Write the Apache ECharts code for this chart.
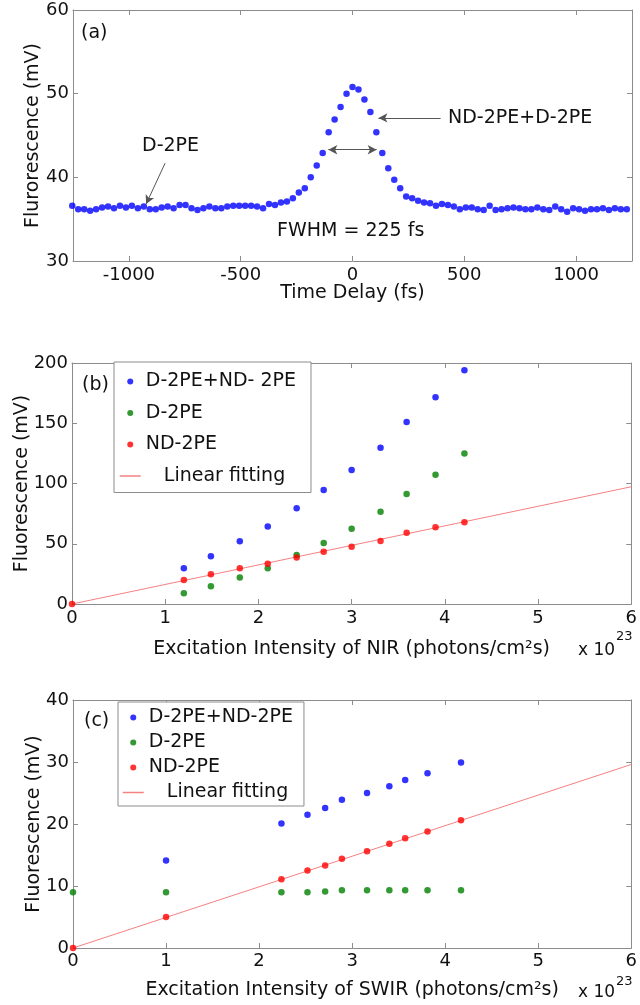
<!DOCTYPE html>
<html><head><meta charset="utf-8">
<script src="https://cdn.jsdelivr.net/npm/echarts@6/dist/echarts.min.js"></script>
<style>html,body{margin:0;padding:0;background:#fff}#c{width:640px;height:1005px}</style>
</head><body><div id="c"></div>
<script>
// ---------- Panel (a) data ----------
const timeDelay = [-1253.3,-1226.7,-1200.0,-1173.3,-1146.7,-1120.0,-1093.3,-1066.7,-1040.0,-1013.3,
  -986.7,-960.0,-933.3,-906.7,-880.0,-853.3,-826.7,-800.0,-773.3,-746.7,
  -720.0,-693.3,-666.7,-640.0,-613.3,-586.7,-560.0,-533.3,-506.7,-480.0,
  -453.3,-426.7,-400.0,-373.3,-346.7,-320.0,-293.3,-266.7,-240.0,-213.3,
  -186.7,-160.0,-133.3,-106.7,-80.0,-53.3,-26.7,0,26.7,53.3,
  80.0,106.7,133.3,160.0,186.7,213.3,240.0,266.7,293.3,320.0,
  346.7,373.3,400.0,426.7,453.3,480.0,506.7,533.3,560.0,586.7,
  613.3,640.0,666.7,693.3,720.0,746.7,773.3,800.0,826.7,853.3,
  880.0,906.7,933.3,960.0,986.7,1013.3,1040.0,1066.7,1093.3,1120.0,
  1146.7,1173.3,1200.0,1226.7];
const fluorA = [36.6,36.2,36.2,36.0,36.2,36.4,36.5,36.3,36.6,36.4,
  36.6,36.3,36.5,36.2,36.2,36.4,36.5,36.3,36.7,36.7,
  36.3,36.1,36.3,36.5,36.3,36.3,36.5,36.6,36.6,36.6,
  36.6,36.5,36.3,36.8,36.7,37.0,37.1,37.5,38.2,38.7,
  40.0,41.4,42.9,45.4,46.9,48.4,50.0,50.8,50.5,49.3,
  47.8,45.4,42.9,41.1,39.7,38.7,37.7,37.5,37.2,37.0,
  36.9,36.6,36.8,36.7,36.5,36.2,36.4,36.4,36.2,36.1,
  36.6,36.1,36.2,36.3,36.4,36.3,36.2,36.2,36.4,36.2,
  36.1,36.5,36.2,35.9,36.3,36.2,36.0,36.2,36.2,36.3,
  36.1,36.3,36.2,36.2];
const ticksA = [-1000, -500, 0, 500, 1000];
// annotation arrows (data coordinates): [x1, y1, x2, y2]
const arrowD2PE = [-838, 41.7, -923, 36.8];
const arrowTotal = [394, 47.1, 116, 47.1];
const arrowFWHM = [-108, 43.3, 108, 43.3];

// ---------- Panel (b) data: NIR ----------
const nirX = [1.20,1.49,1.80,2.10,2.41,2.70,3.00,3.31,3.59,3.90,4.21];
const nirTotal = [29.6,39.6,52.1,64.3,79.5,94.7,111.1,129.6,151.0,171.5,193.9];
const nirD2PE = [8.9,14.7,21.9,29.6,40.7,50.6,62.5,76.6,91.3,107.3,125.0];
const nirNDX = [0,1.20,1.49,1.80,2.10,2.41,2.70,3.00,3.31,3.59,3.90,4.21];
const nirND2PE = [0,19.9,24.6,29.6,33.5,38.5,43.4,47.6,52.3,59.2,63.6,67.8];
const nirFitX = [0, 6];
const nirFitY = [0, 97.3];

// ---------- Panel (c) data: SWIR ----------
const swirX = [1.00,2.24,2.52,2.71,2.89,3.16,3.40,3.57,3.81,4.17];
const swirTotal = [14.1,20.1,21.5,22.6,23.9,25.0,26.1,27.1,28.2,29.9];
const swirDX = [0,1.00,2.24,2.52,2.71,2.89,3.16,3.40,3.57,3.81,4.17];
const swirD2PE = [9.0,9.0,9.0,9.0,9.1,9.3,9.3,9.3,9.3,9.3,9.3];
const swirNDX = [0,1.00,2.24,2.52,2.71,2.89,3.16,3.40,3.57,3.81,4.17];
const swirND2PE = [0,5.0,11.1,12.5,13.3,14.4,15.6,16.8,17.7,18.8,20.6];
const swirFitX = [0, 6];
const swirFitY = [0, 29.6];

const legendB = ['D-2PE+ND- 2PE', 'D-2PE', 'ND-2PE', 'Linear fitting'];
const legendC = ['D-2PE+ND-2PE', 'D-2PE', 'ND-2PE', 'Linear fitting'];

// ---------- styling ----------
const FONT = 'DejaVu Sans';
const AX = '#8c8c8c';
const TXT = '#111';
const BLUE = '#0000ff', GREEN = '#008000', RED = '#ff0000', FIT = '#f58080';

const zip = (xs, ys) => xs.map((x, i) => [x, ys[i]]);
const plain = v => String(v);

function xAxisPair(grid, min, max, interval, custom, name, nameGap, margin) {
  const base = {
    type: 'value', gridIndex: grid, min: min, max: max,
    axisLine: { onZero: false, lineStyle: { color: AX, width: 1 } },
    splitLine: { show: false }
  };
  if (interval != null) base.interval = interval;
  const bottom = Object.assign({}, base, {
    position: 'bottom',
    axisTick: { inside: true, length: 5, lineStyle: { color: AX } },
    axisLabel: { margin: margin, color: TXT, fontFamily: FONT, fontSize: 18, formatter: plain },
    name: name, nameLocation: 'middle', nameGap: nameGap, nameMoveOverlap: false,
    nameTextStyle: { color: TXT, fontFamily: FONT, fontSize: 19 }
  });
  const top = Object.assign({}, base, {
    position: 'top',
    axisTick: { inside: true, length: 5, lineStyle: { color: AX } },
    axisLabel: { show: false }
  });
  if (custom) {
    bottom.axisTick.customValues = custom;
    bottom.axisLabel.customValues = custom;
    top.axisTick.customValues = custom;
  }
  return [bottom, top];
}
function yAxisPair(grid, min, max, interval, name, nameGap) {
  const base = {
    type: 'value', gridIndex: grid, min: min, max: max, interval: interval,
    axisLine: { show: true, onZero: false, lineStyle: { color: AX, width: 1 } },
    splitLine: { show: false }
  };
  const left = Object.assign({}, base, {
    position: 'left',
    axisTick: { show: true, inside: true, length: 5, lineStyle: { color: AX } },
    axisLabel: { margin: 4, color: TXT, fontFamily: FONT, fontSize: 18, formatter: plain },
    name: name, nameLocation: 'middle', nameGap: nameGap, nameRotate: 90, nameMoveOverlap: false,
    nameTextStyle: { color: TXT, fontFamily: FONT, fontSize: 19 }
  });
  const right = Object.assign({}, base, {
    position: 'right',
    axisTick: { show: true, inside: true, length: 5, lineStyle: { color: AX } },
    axisLabel: { show: false }
  });
  return [left, right];
}

const xa = xAxisPair(0, -1250, 1250, null, ticksA, 'Time Delay (fs)', 23, 5);
const xb = xAxisPair(1, 0, 6, 1, null, 'Excitation Intensity of NIR (photons/cm\u00B2s)', 36, 5);
const xc = xAxisPair(2, 0, 6, 1, null, 'Excitation Intensity of SWIR (photons/cm\u00B2s)', 33, 4);
const ya = yAxisPair(0, 30, 60, 10, 'Flurorescence (mV)', 30);
const yb = yAxisPair(1, 0, 200, 50, 'Fluorescence (mV)', 40);
const yc = yAxisPair(2, 0, 40, 10, 'Fluorescence (mV)', 29);

function arrowLine(a, s1, s2) {
  return [{ coord: [a[0], a[1]], symbol: s1 }, { coord: [a[2], a[3]], symbol: s2 }];
}
function scatter(name, data, color, xi, yi, size) {
  return { name: name, type: 'scatter', data: data, xAxisIndex: xi, yAxisIndex: yi,
    symbol: 'circle', symbolSize: size, itemStyle: { color: color }, clip: false,
    animation: false, silent: true };
}
function fit(name, data, xi, yi) {
  return { name: name, type: 'line', data: data, xAxisIndex: xi, yAxisIndex: yi,
    symbol: 'none', lineStyle: { color: FIT, width: 1 }, itemStyle: { color: FIT },
    animation: false, silent: true, z: 1 };
}
const legendText = { color: TXT, fontFamily: FONT, fontSize: 19 };
const fmt = n => n === 'Linear fitting' ? '   ' + n : n;
const legendItems = names => names.map(n => n === 'Linear fitting'
  ? { name: n, itemStyle: { opacity: 0 }, lineStyle: { color: FIT, width: 1.5 } }
  : { name: n });

const option = {
  animation: false,
  backgroundColor: '#fff',
  grid: [
    { left: 73, top: 10, width: 559, height: 251 },
    { left: 72, top: 363, width: 561, height: 241 },
    { left: 73, top: 700, width: 560, height: 248 }
  ],
  xAxis: [xa[0], xa[1], xb[0], xb[1], xc[0], xc[1]],
  yAxis: [ya[0], ya[1], yb[0], yb[1], yc[0], yc[1]],
  legend: [
    { orient: 'vertical', left: 114, top: 362, data: legendItems(legendB), itemWidth: 21, itemHeight: 6,
      itemGap: 12.5, itemTextGap: 3, padding: [10, 15, 7, 5], borderColor: AX, borderWidth: 1,
      backgroundColor: '#fff', textStyle: legendText, formatter: fmt, selectedMode: false },
    { orient: 'vertical', left: 118, top: 702, data: legendItems(legendC), itemWidth: 21, itemHeight: 6,
      itemGap: 6, itemTextGap: 3, padding: [6, 11, 4, 4], borderColor: AX, borderWidth: 1,
      backgroundColor: '#fff', textStyle: legendText, formatter: fmt, selectedMode: false }
  ],
  series: [
    Object.assign(scatter('Time scan', zip(timeDelay, fluorA), BLUE, 0, 0, 6.5), {
      markLine: {
        silent: true, animation: false, symbolSize: [7, 9],
        lineStyle: { color: '#555', width: 1, type: 'solid' },
        label: { show: false }, emphasis: { disabled: true },
        data: [
          arrowLine(arrowD2PE, 'none', 'arrow'),
          arrowLine(arrowTotal, 'none', 'arrow'),
          arrowLine(arrowFWHM, 'arrow', 'arrow')
        ]
      }
    }),
    fit('Linear fitting', zip(nirFitX, nirFitY), 2, 2),
    scatter('D-2PE+ND- 2PE', zip(nirX, nirTotal), BLUE, 2, 2, 6.5),
    scatter('D-2PE', zip(nirX, nirD2PE), GREEN, 2, 2, 6.5),
    scatter('ND-2PE', zip(nirNDX, nirND2PE), RED, 2, 2, 6.5),
    fit('Linear fitting', zip(swirFitX, swirFitY), 4, 4),
    scatter('D-2PE+ND-2PE', zip(swirX, swirTotal), BLUE, 4, 4, 6.5),
    scatter('D-2PE', zip(swirDX, swirD2PE), GREEN, 4, 4, 6.5),
    scatter('ND-2PE', zip(swirNDX, swirND2PE), RED, 4, 4, 6.5)
  ],
  graphic: [
    { type: 'text', left: 81, top: 24, style: { text: '(a)', fill: TXT, font: '19px "DejaVu Sans"' } },
    { type: 'text', left: 142, top: 137, style: { text: 'D-2PE', fill: TXT, font: '19px "DejaVu Sans"' } },
    { type: 'text', left: 448, top: 109, style: { text: 'ND-2PE+D-2PE', fill: TXT, font: '19px "DejaVu Sans"' } },
    { type: 'text', left: 277, top: 222, style: { text: 'FWHM = 225 fs', fill: TXT, font: '19px "DejaVu Sans"' } },
    { type: 'text', left: 82, top: 376, style: { text: '(b)', fill: TXT, font: '19px "DejaVu Sans"' } },
    { type: 'text', left: 84, top: 712, style: { text: '(c)', fill: TXT, font: '19px "DejaVu Sans"' } },
    { type: 'text', left: 578, top: 642, style: { text: 'x 10', fill: TXT, font: '17px "DejaVu Sans"' } },
    { type: 'text', left: 616, top: 630, style: { text: '23', fill: TXT, font: '13px "DejaVu Sans"' } },
    { type: 'text', left: 578, top: 984, style: { text: 'x 10', fill: TXT, font: '17px "DejaVu Sans"' } },
    { type: 'text', left: 616, top: 975, style: { text: '23', fill: TXT, font: '13px "DejaVu Sans"' } }
  ]
};
const chart = echarts.init(document.getElementById('c'), null, { renderer: 'canvas' });
chart.setOption(option);
</script>
</body></html>
